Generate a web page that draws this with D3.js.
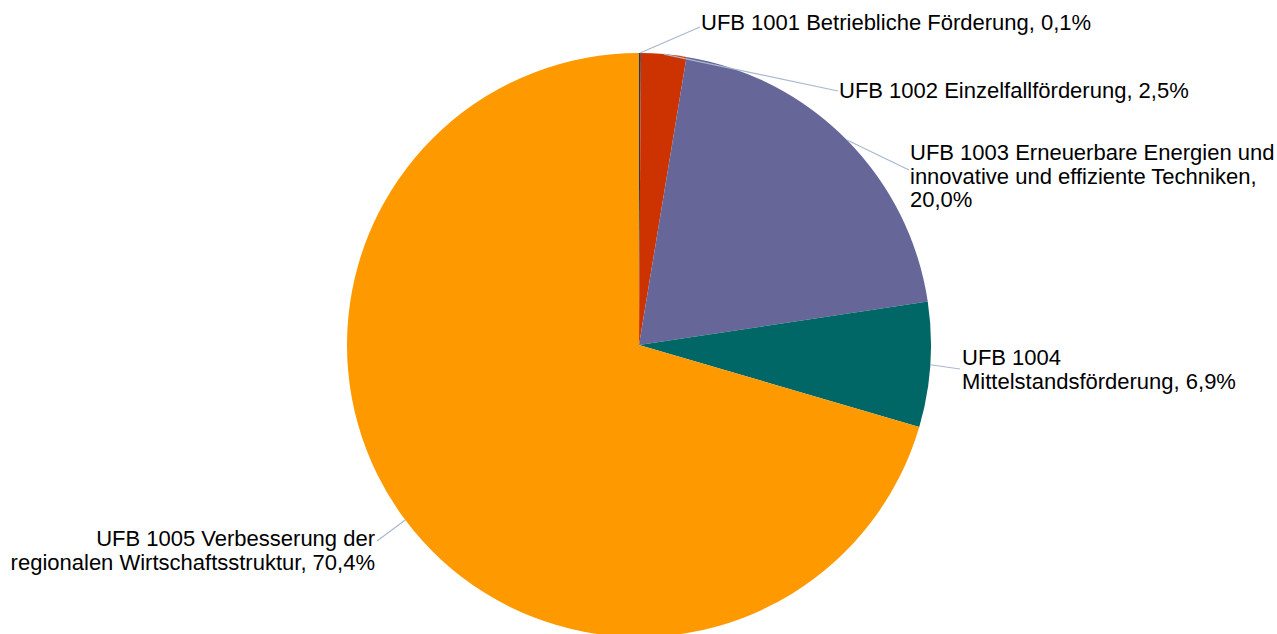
<!DOCTYPE html>
<html>
<head>
<meta charset="utf-8">
<script src="https://cdn.jsdelivr.net/npm/d3@7/dist/d3.min.js"></script>
<style>
  html, body { margin: 0; padding: 0; background: #fff; overflow: hidden; }
  svg { display: block; font-family: "Liberation Sans", Arial, sans-serif; }
</style>
</head>
<body>
<svg id="chart" width="1277" height="634"></svg>
<script>
// Budget shares by programme (UFB = Unterfinanzbereich), in percent
const categories = [
  "UFB 1001 Betriebliche Förderung",
  "UFB 1002 Einzelfallförderung",
  "UFB 1003 Erneuerbare Energien und innovative und effiziente Techniken",
  "UFB 1004 Mittelstandsförderung",
  "UFB 1005 Verbesserung der regionalen Wirtschaftsstruktur"
];
const shares = [0.1, 2.5, 20.0, 6.9, 70.4];
const labelLines = [
  ["UFB 1001 Betriebliche Förderung, 0,1%"],
  ["UFB 1002 Einzelfallförderung, 2,5%"],
  ["UFB 1003 Erneuerbare Energien und", "innovative und effiziente Techniken,", "20,0%"],
  ["UFB 1004", "Mittelstandsförderung, 6,9%"],
  ["UFB 1005 Verbesserung der", "regionalen Wirtschaftsstruktur, 70,4%"]
];
const colors = ["#1f3a60", "#cc3300", "#666699", "#006666", "#ff9900"];

// Label anchor (first baseline) and leader-line end for each slice
const labelLayout = [
  { x: 701, y: 30, anchor: "start", lx: 700, ly: 27 },
  { x: 839, y: 98, anchor: "start", lx: 838, ly: 91 },
  { x: 910, y: 160, anchor: "start", lx: 909, ly: 170 },
  { x: 962, y: 365, anchor: "start", lx: 960, ly: 369 },
  { x: 375, y: 546, anchor: "end", lx: 377, ly: 541 }
];

const cx = 639, cy = 345, radius = 292;
const fontSize = 22, lineHeight = 23.5;

const svg = d3.select("#chart");
const g = svg.append("g").attr("transform", `translate(${cx},${cy})`);

const data = shares.map((v, i) => ({ name: categories[i], value: v, i }));
const pie = d3.pie().value(d => d.value).sort(null);
const arc = d3.arc().innerRadius(0).outerRadius(radius);
const arcs = pie(data);

g.selectAll("path.slice")
  .data(arcs)
  .join("path")
  .attr("class", "slice")
  .attr("d", arc)
  .attr("fill", d => colors[d.data.i]);

// Leader lines from the slice's outer edge to its label
g.selectAll("line.leader")
  .data(arcs)
  .join("line")
  .attr("class", "leader")
  .attr("x1", d => radius * Math.sin((d.startAngle + d.endAngle) / 2))
  .attr("y1", d => -radius * Math.cos((d.startAngle + d.endAngle) / 2))
  .attr("x2", d => labelLayout[d.data.i].lx - cx)
  .attr("y2", d => labelLayout[d.data.i].ly - cy)
  .attr("stroke", "#a9b8d0")
  .attr("stroke-width", 1.2);

const labels = svg.selectAll("text.label")
  .data(data)
  .join("text")
  .attr("class", "label")
  .attr("font-size", fontSize)
  .attr("fill", "#000")
  .attr("text-anchor", d => labelLayout[d.i].anchor);

labels.selectAll("tspan")
  .data(d => labelLines[d.i].map((t, k) => ({ t, k, i: d.i })))
  .join("tspan")
  .attr("x", d => labelLayout[d.i].x)
  .attr("y", d => labelLayout[d.i].y + d.k * lineHeight)
  .text(d => d.t);
</script>
</body>
</html>
